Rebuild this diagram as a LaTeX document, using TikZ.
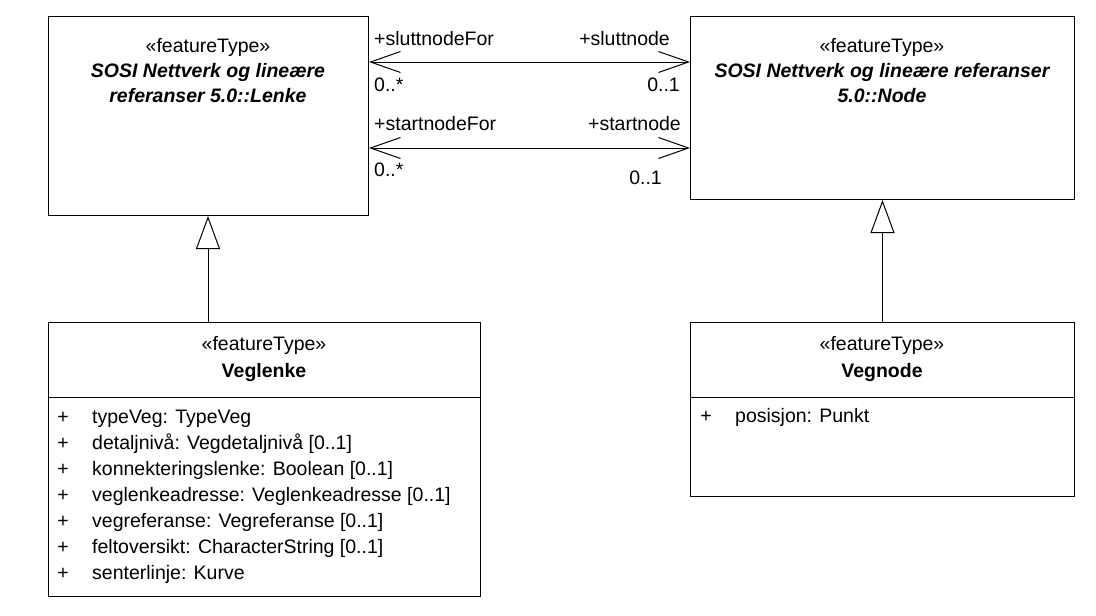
\documentclass[tikz,border=0pt]{standalone}
\usepackage{fontspec}
\setmainfont{Liberation Sans}
\usetikzlibrary{arrows.meta}
\begin{document}
\begin{tikzpicture}[x=1pt,y=-1pt,
  box/.style={draw,line width=1pt,inner sep=0pt,anchor=north west},
  txt/.style={font=\fontsize{19.5}{23}\selectfont,inner sep=0pt,anchor=base},
  ttl/.style={txt,font=\fontsize{19.5}{23}\selectfont\bfseries\itshape},
  nm/.style={txt,font=\fontsize{19.5}{23}\selectfont\bfseries},
  lbl/.style={txt,anchor=base west},
  rlbl/.style={txt,anchor=base east},
  assoc/.style={line width=1pt,{Straight Barb[length=30pt,width=21pt,line width=1pt]}-{Straight Barb[length=30pt,width=21pt,line width=1pt]}},
  gen/.style={line width=1pt,-{Triangle[open,length=33pt,width=24pt,line width=1pt,fill=white]}}
]
\useasboundingbox (0,0) rectangle (1096,616);
% boxes
\node[box,minimum width=320pt,minimum height=199pt] (lenke) at (48,16) {};
\node[box,minimum width=384pt,minimum height=183pt] (node) at (690,16) {};
\node[box,minimum width=432pt,minimum height=274pt] (veglenke) at (48,322) {};
\node[box,minimum width=384pt,minimum height=174pt] (vegnode) at (690,322) {};
\draw[line width=1pt] (veglenke.west |- 0,397) coordinate (vlsl) -- (veglenke.east |- 0,397) coordinate (vlsr);
\draw[line width=1pt] (vegnode.west |- 0,397) coordinate (vnsl) -- (vegnode.east |- 0,397) coordinate (vnsr);
% Lenke text
\node[txt] (l1) at (208,52) {«featureType»};
\node[ttl] (l2) at (208,77) {SOSI Nettverk og lineære};
\node[ttl] (l3) at (208,102) {referanser 5.0::Lenke};
% Node text
\node[txt] (n1) at (882,52) {«featureType»};
\node[ttl] (n2) at (882,77) {SOSI Nettverk og lineære referanser};
\node[ttl] (n3) at (882,102) {5.0::Node};
% Veglenke
\node[txt] (v1) at (264,350) {«featureType»};
\node[nm] (v2) at (264,377) {Veglenke};
\foreach \y/\t [count=\i] in {423/typeVeg: TypeVeg,
  449/detaljnivå: Vegdetaljnivå [0..1],
  475/konnekteringslenke: Boolean [0..1],
  501/veglenkeadresse: Veglenkeadresse [0..1],
  527/vegreferanse: Vegreferanse [0..1],
  553/feltoversikt: CharacterString [0..1],
  579/senterlinje: Kurve}{
  \node[txt] (vp\i) at (63,\y) {+};
  \node[lbl] (va\i) at (92,\y) {\t};
}
% Vegnode
\node[txt] (g1) at (882,350) {«featureType»};
\node[nm] (g2) at (882,377) {Vegnode};
\node[txt] (gp1) at (706,422) {+};
\node[lbl] (ga1) at (735,422) {posisjon: Punkt};
% associations
\draw[assoc] (lenke.east |- 0,62) -- (node.west |- 0,62);
\draw[assoc] (lenke.east |- 0,148) -- (node.west |- 0,148);
\node[lbl] (a1) at (374,45) {+sluttnodeFor};
\node[rlbl] (a2) at (670,45) {+sluttnode};
\node[lbl] (a3) at (374,91) {0..*};
\node[rlbl] (a4) at (680,91) {0..1};
\node[lbl] (a5) at (374,130) {+startnodeFor};
\node[rlbl] (a6) at (681,130) {+startnode};
\node[lbl] (a7) at (374,176) {0..*};
\node[rlbl] (a8) at (662,184) {0..1};
% generalizations
\draw[gen] (veglenke.north -| 208,0) -- (lenke.south -| 208,0);
\draw[gen] (vegnode.north) -- (node.south);
\end{tikzpicture}
\end{document}
